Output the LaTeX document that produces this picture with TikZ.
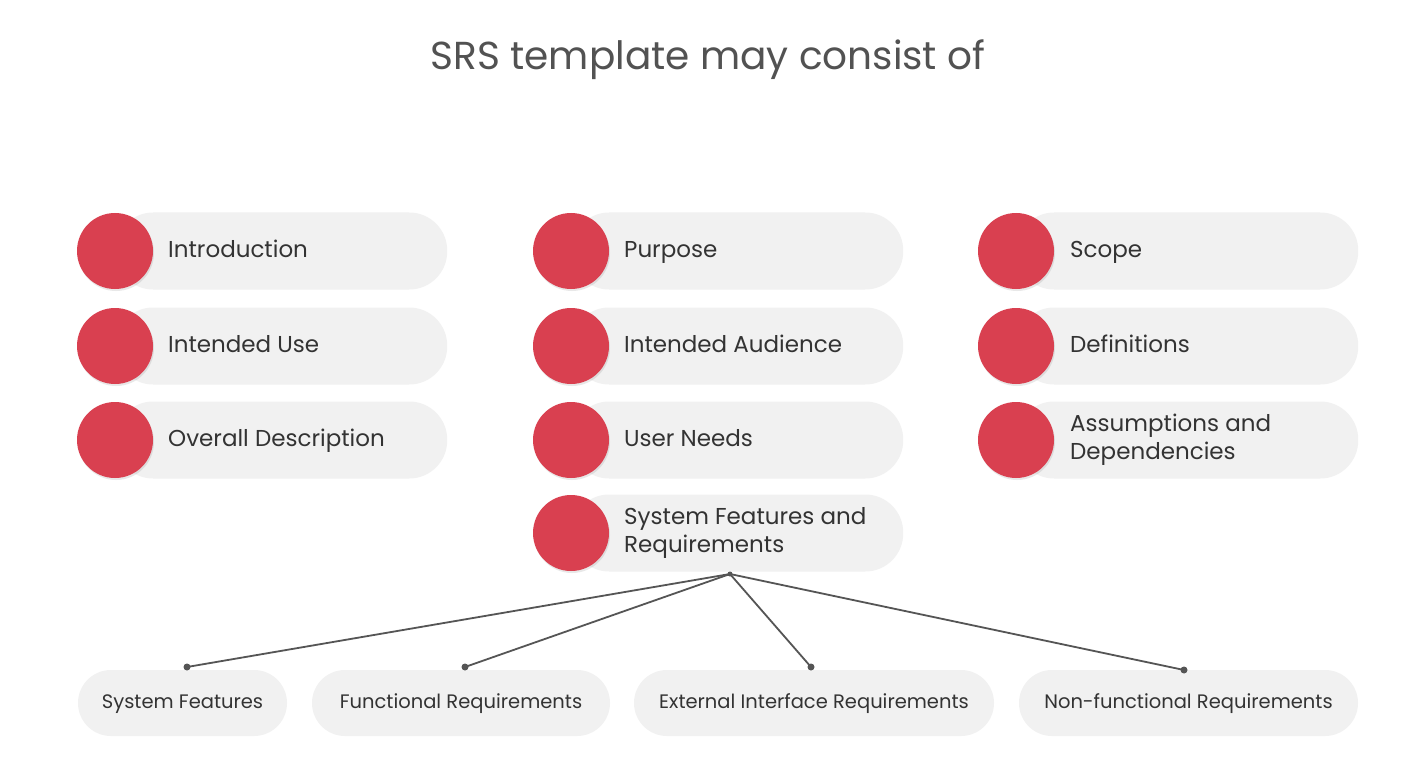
\documentclass[tikz,border=0pt]{standalone}
\usepackage{fontspec}
\setmainfont{Poppins}
\usetikzlibrary{shadows}
\definecolor{redc}{RGB}{217,64,80}
\definecolor{pillc}{RGB}{241,241,241}
\definecolor{txtc}{RGB}{51,51,51}
\definecolor{linec}{RGB}{85,85,85}
\tikzset{
  pill/.style={fill=pillc, draw=none, minimum height=77pt, rounded corners=38pt, inner sep=0pt},
  smallpill/.style={fill=pillc, draw=none, minimum height=66pt, rounded corners=33pt, inner sep=0pt,
    font=\fontsize{19.5}{23}\selectfont, text=txtc, text height=14pt, text depth=4pt},
  reddot/.style={circle, fill=redc, minimum size=76pt, inner sep=0pt,
    drop shadow={opacity=0.18, shadow xshift=1pt, shadow yshift=-2pt}},
  lblbase/.style={anchor=west, font=\fontsize{23}{28}\selectfont, text=txtc, align=left, inner sep=0pt},
  lbl/.style={lblbase, text height=17pt, text depth=5pt},
  lbltwo/.style={lblbase},
  conndot/.style={circle, fill=linec, minimum size=7pt, inner sep=0pt},
  conn/.style={draw=linec, line width=1.8pt}
}
\begin{document}
\begin{tikzpicture}[x=1pt,y=-1pt]
\useasboundingbox[fill=white] (0,0) rectangle (1416,770);
\node[font=\fontsize{39}{46}\selectfont, text=txtc!85] (title) at (708,60) {SRS template may consist of};

% column 1
\node[pill, minimum width=332pt, anchor=west] (p11) at (115,251) {};
\node[pill, minimum width=332pt, anchor=west] (p12) at (115,346) {};
\node[pill, minimum width=332pt, anchor=west] (p13) at (115,440) {};
\node[reddot] (c11) at (115,251) {};
\node[reddot] (c12) at (115,346) {};
\node[reddot] (c13) at (115,440) {};
\node[lbl] (t11) at (168,251) {Introduction};
\node[lbl] (t12) at (168,346) {Intended Use};
\node[lbl] (t13) at (168,440) {Overall Description};

% column 2
\node[pill, minimum width=332pt, anchor=west] (p21) at (571,251) {};
\node[pill, minimum width=332pt, anchor=west] (p22) at (571,346) {};
\node[pill, minimum width=332pt, anchor=west] (p23) at (571,440) {};
\node[pill, minimum width=332pt, anchor=west] (p24) at (571,533) {};
\node[reddot] (c21) at (571,251) {};
\node[reddot] (c22) at (571,346) {};
\node[reddot] (c23) at (571,440) {};
\node[reddot] (c24) at (571,533) {};
\node[lbl] (t21) at (624,251) {Purpose};
\node[lbl] (t22) at (624,346) {Intended Audience};
\node[lbl] (t23) at (624,440) {User Needs};
\node[lbltwo] (t24) at (624,533) {System Features and\\Requirements};

% column 3
\node[pill, minimum width=342pt, anchor=west] (p31) at (1016,251) {};
\node[pill, minimum width=342pt, anchor=west] (p32) at (1016,346) {};
\node[pill, minimum width=342pt, anchor=west] (p33) at (1016,440) {};
\node[reddot] (c31) at (1016,251) {};
\node[reddot] (c32) at (1016,346) {};
\node[reddot] (c33) at (1016,440) {};
\node[lbl] (t31) at (1070,251) {Scope};
\node[lbl] (t32) at (1070,346) {Definitions};
\node[lbltwo] (t33) at (1070,440) {Assumptions and\\Dependencies};

% bottom pills
\node[smallpill, minimum width=209pt] (b1) at (182.5,703) {System Features};
\node[smallpill, minimum width=298pt] (b2) at (461,703) {Functional Requirements};
\node[smallpill, minimum width=360pt] (b3) at (814,703) {External Interface Requirements};
\node[smallpill, minimum width=339pt] (b4) at (1188.5,703) {Non-functional Requirements};

% connectors
\coordinate (hub) at (730,574);
\node[conndot, minimum size=5pt] (hubdot) at (hub) {};
\node[conndot] (d1) at (187,667) {};
\node[conndot] (d2) at (465,667) {};
\node[conndot] (d3) at (811,667) {};
\node[conndot] (d4) at (1184,670) {};
\draw[conn] (hub) -- (d1.center);
\draw[conn] (hub) -- (d2.center);
\draw[conn] (hub) -- (d3.center);
\draw[conn] (hub) -- (d4.center);
\end{tikzpicture}
\end{document}
